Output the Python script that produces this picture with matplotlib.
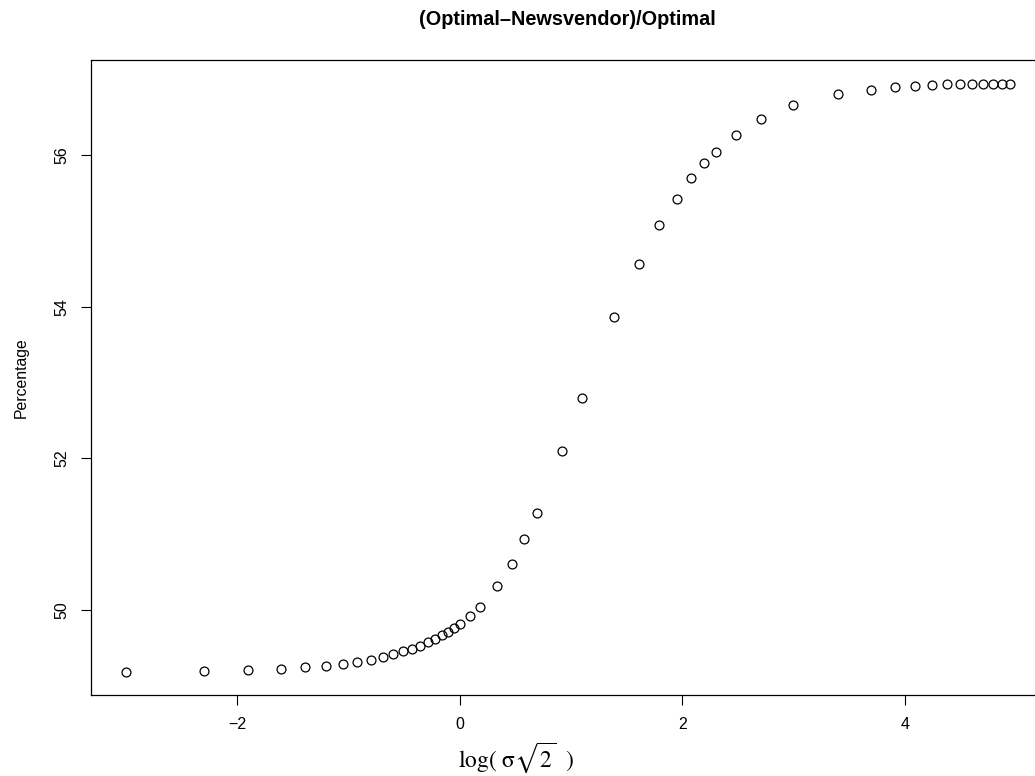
import matplotlib
matplotlib.use("Agg")
import matplotlib.pyplot as plt

# log(sigma*sqrt(2)) values
log_sigma = [-3.00, -2.30, -1.90, -1.61, -1.39, -1.20, -1.05, -0.92, -0.80, -0.69,
             -0.60, -0.51, -0.43, -0.36, -0.29, -0.22, -0.16, -0.11, -0.05, 0.00,
             0.09, 0.18, 0.33, 0.47, 0.58, 0.69, 0.92, 1.10, 1.39, 1.61,
             1.79, 1.95, 2.08, 2.19, 2.30, 2.48, 2.71, 2.99, 3.40, 3.69,
             3.91, 4.09, 4.24, 4.38, 4.49, 4.60, 4.70, 4.79, 4.87, 4.94]
# percentage values
percentage = [49.18, 49.19, 49.20, 49.22, 49.24, 49.26, 49.28, 49.31, 49.34, 49.37,
              49.41, 49.45, 49.48, 49.52, 49.57, 49.61, 49.66, 49.71, 49.76, 49.81,
              49.92, 50.04, 50.31, 50.60, 50.94, 51.28, 52.09, 52.79, 53.86, 54.57,
              55.08, 55.43, 55.70, 55.90, 56.05, 56.27, 56.48, 56.67, 56.81, 56.87,
              56.90, 56.92, 56.93, 56.94, 56.94, 56.95, 56.95, 56.95, 56.95, 56.95]
x_ticks = [-2, 0, 2, 4]
y_ticks = [50, 52, 54, 56]

plt.rcParams['font.family'] = ['Liberation Sans', 'DejaVu Sans']
plt.rcParams['mathtext.fontset'] = 'stix'

W, H = 1035, 776
fig = plt.figure(figsize=(W / 100, H / 100), dpi=100)
left, right, top, bottom = 90.5, 1045, 60, 695.3
ax = fig.add_axes([left / W, 1 - bottom / H, (right - left) / W, (bottom - top) / H])

ax.plot(log_sigma, percentage, linestyle='none', marker='o', markersize=6.4,
        markerfacecolor='none', markeredgecolor='black', markeredgewidth=0.9)

xr = max(log_sigma) - min(log_sigma)
yr = max(percentage) - min(percentage)
ax.set_xlim(min(log_sigma) - 0.04 * xr, max(log_sigma) + 0.04 * xr)
ax.set_ylim(min(percentage) - 0.04 * yr, max(percentage) + 0.04 * yr)

ax.set_xticks(x_ticks)
ax.set_yticks(y_ticks)
ax.set_xticklabels(['\u22122', '0', '2', '4'])
ax.tick_params(axis='both', direction='out', length=7.5, width=0.8, labelsize=11.5,
               color='black', pad=8)
for lab in ax.get_yticklabels():
    lab.set_rotation(90)
    lab.set_va('center')

for s in ax.spines.values():
    s.set_linewidth(0.9)

ax.set_title('(Optimal\u2013Newsvendor)/Optimal', fontsize=14.3, fontweight='bold', pad=25)
ax.set_xlabel(r'$\mathrm{log}(\ \mathrm{\sigma}\sqrt{2}\ \ )$', fontsize=17)
ax.xaxis.label.set_va('center')
ax.xaxis.set_label_coords((516 - left) / (right - left), (bottom - 758) / (bottom - top))
ax.set_ylabel('Percentage', fontsize=11.3, labelpad=18)

fig.savefig('out.png', dpi=100)
